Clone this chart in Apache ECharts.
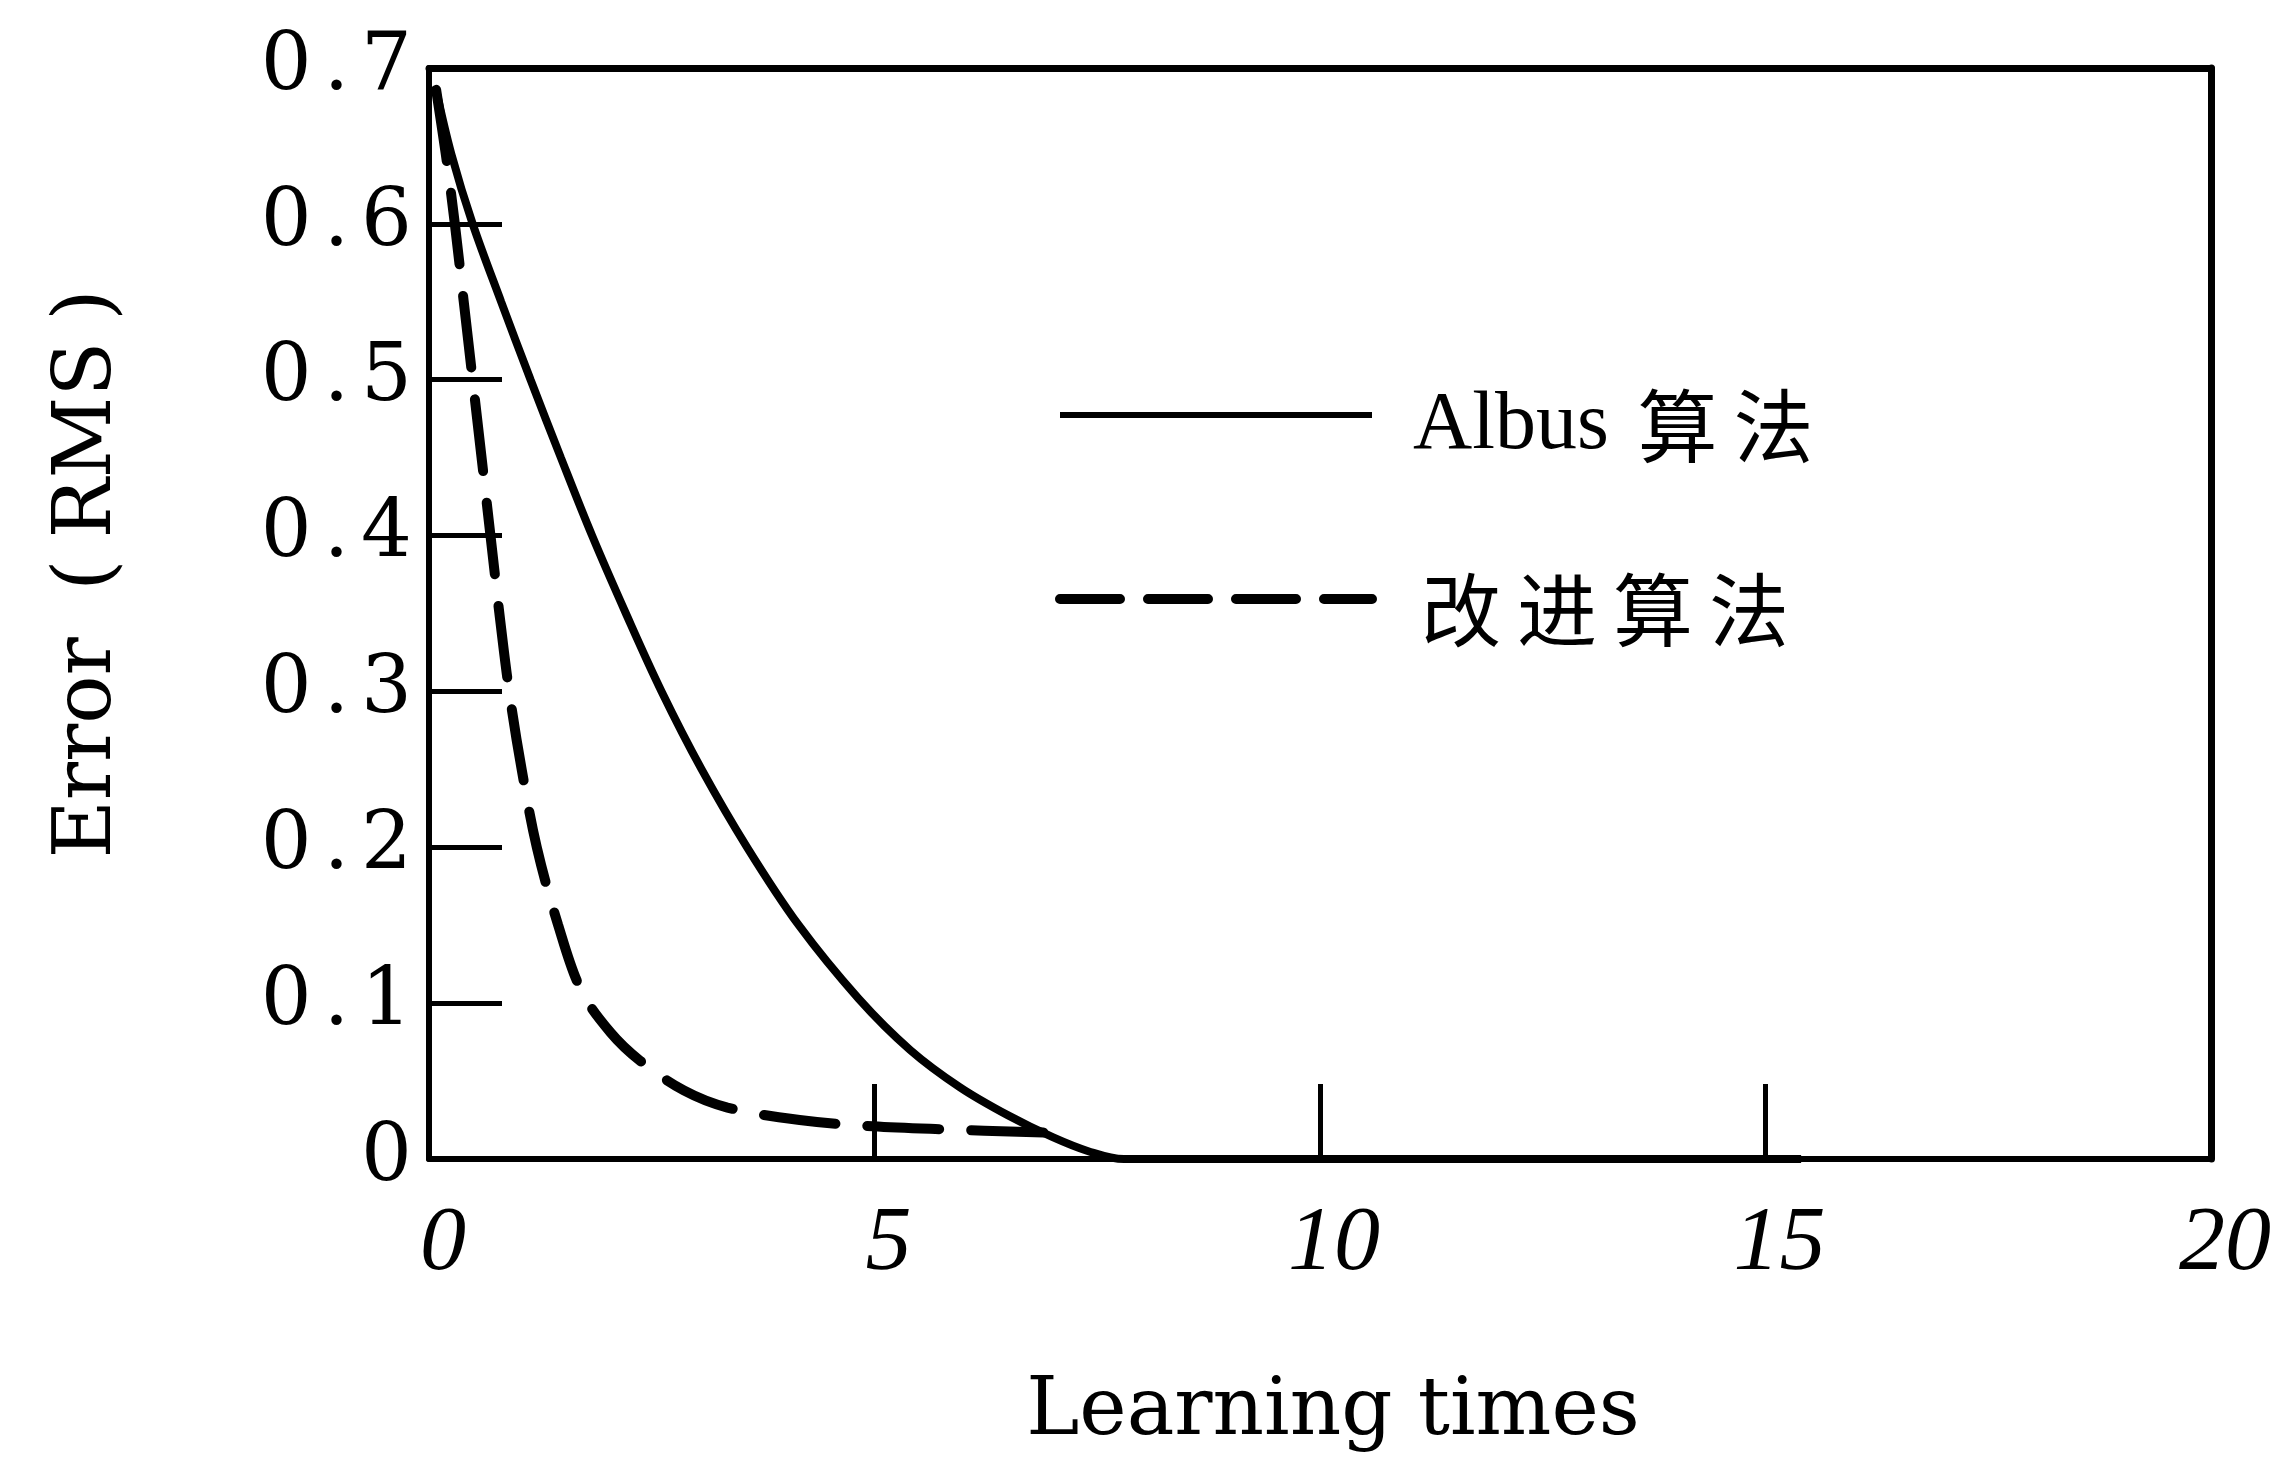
<!DOCTYPE html>
<html>
<head>
<meta charset="utf-8">
<script src="https://cdn.jsdelivr.net/npm/echarts@6/dist/echarts.min.js"></script>
<style>
html,body{margin:0;padding:0;background:#fff;}
#c{width:2281px;height:1463px;}
</style>
</head>
<body>
<div id="c"></div>
<script>
// ---- data ----
const seriesNames = ['Albus 算法', '改进算法'];
const xAlbus = [0.08, 0.25, 0.49, 0.81, 1.14, 1.48, 1.83, 2.21, 2.61, 3.06, 3.57, 4.15, 4.82, 5.4, 5.96, 6.5, 7.0, 7.4, 7.8, 9, 11, 13, 15.4];
const yAlbus = [0.686, 0.645, 0.6, 0.55, 0.5, 0.45, 0.4, 0.35, 0.3, 0.25, 0.2, 0.15, 0.103, 0.07, 0.046, 0.028, 0.014, 0.005, 0, 0, 0, 0, 0];
const xImproved = [0.08, 0.2, 0.29, 0.39, 0.49, 0.59, 0.69, 0.79, 0.9, 1.04, 1.21, 1.45, 1.71, 2.04, 2.37, 2.86, 3.35, 4.16, 4.98, 5.8, 6.9];
const yImproved = [0.686, 0.64, 0.6, 0.55, 0.5, 0.45, 0.4, 0.35, 0.3, 0.25, 0.2, 0.15, 0.108, 0.081, 0.063, 0.044, 0.033, 0.025, 0.021, 0.019, 0.017];
const xTickLabels = ['0', '5', '10', '15', '20'];
const yTickLabels = ['0', '0.1', '0.2', '0.3', '0.4', '0.5', '0.6', '0.7'];
const xTitle = 'Learning times';
const yTitle = 'Error (RMS)';

const pairs = (xs, ys) => xs.map((x, i) => [x, ys[i]]);

const chart = echarts.init(document.getElementById('c'), null, {renderer: 'canvas'});
const black = '#000';
const serif = "'DejaVu Serif', 'Liberation Serif', serif";
const noMarker = {color: 'rgba(0,0,0,0)', borderColor: 'rgba(0,0,0,0)', borderWidth: 0, opacity: 0};

const option = {
  backgroundColor: '#fff',
  animation: false,
  grid: {left: 429, right: 70, top: 68, bottom: 304, show: false},
  legend: {
    orient: 'vertical',
    left: 1050,
    top: 356,
    itemWidth: 312,
    itemHeight: 86,
    itemGap: 76,
    itemStyle: noMarker,
    data: [
      {name: seriesNames[0], itemStyle: noMarker, lineStyle: {color: black, width: 6, type: 'solid'}},
      {name: seriesNames[1], itemStyle: noMarker, lineStyle: {color: black, width: 10, type: [60, 28]}}
    ],
    formatter: (name) => name.replace(/[\u4e00-\u9fff]/g, (c) => '{c|' + c + '}'),
    textStyle: {
      fontFamily: "'Liberation Serif', 'Noto Sans CJK SC', serif",
      fontSize: 82,
      color: black,
      padding: [22, 0, 0, 36],
      lineHeight: 86,
      rich: {
        c: {fontFamily: "'Noto Sans CJK SC', sans-serif", fontSize: 80, color: black, lineHeight: 86, padding: [0, 8, 0, 8]}
      }
    }
  },
  xAxis: [{
    type: 'value', min: 0, max: 20, interval: 5,
    name: xTitle, nameLocation: 'middle', nameGap: 214,
    nameTextStyle: {fontFamily: serif, fontSize: 80, color: black, padding: [0, 0, 0, 26]},
    axisLine: {show: true, onZero: false, lineStyle: {color: black, width: 6}},
    axisTick: {show: true, inside: true, length: 75, lineStyle: {color: black, width: 5}},
    axisLabel: {
      margin: 40, color: black, fontFamily: "'Liberation Serif', serif", fontStyle: 'italic', fontSize: 92,
      padding: [0, 0, 0, 28],
      formatter: (v) => xTickLabels[Math.round(v / 5)]
    },
    splitLine: {show: false}
  }, {
    type: 'value', min: 0, max: 20, position: 'top',
    axisLine: {show: true, onZero: false, lineStyle: {color: black, width: 7}},
    axisTick: {show: false}, axisLabel: {show: false}, splitLine: {show: false}
  }],
  yAxis: [{
    type: 'value', min: 0, max: 0.7, interval: 0.1,
    name: yTitle.replace('(', '{p|(}').replace(')', '{p|)}'),
    nameLocation: 'middle', nameGap: 300, nameRotate: 90,
    nameTextStyle: {
      fontFamily: serif, fontSize: 80, color: black,
      padding: [0, 0, 0, 100],
      rich: {
        p: {fontFamily: serif, fontSize: 80, color: black, padding: [0, 21, 0, 21]}
      }
    },
    axisLine: {show: true, onZero: false, lineStyle: {color: black, width: 6}},
    axisTick: {show: true, inside: true, length: 73, lineStyle: {color: black, width: 5}},
    axisLabel: {
      margin: 17, color: black,
      formatter: (v) => {
        const s = yTickLabels[Math.round(v * 10)];
        return s.split('').map(c => c === '.' ? '{d|.}' : '{n|' + c + '}').join('');
      },
      rich: {
        n: {fontFamily: serif, fontSize: 80, color: black},
        d: {fontFamily: serif, fontSize: 80, color: black, padding: [0, 12, 0, 12]}
      }
    },
    splitLine: {show: false}
  }, {
    type: 'value', min: 0, max: 0.7, position: 'right',
    axisLine: {show: true, onZero: false, lineStyle: {color: black, width: 7}},
    axisTick: {show: false}, axisLabel: {show: false}, splitLine: {show: false}
  }],
  series: [{
    name: seriesNames[0],
    type: 'line',
    data: pairs(xAlbus, yAlbus),
    symbol: 'none',
    smooth: 0.35,
    lineStyle: {color: black, width: 8, type: 'solid'},
    itemStyle: {color: black}
  }, {
    name: seriesNames[1],
    type: 'line',
    data: pairs(xImproved, yImproved),
    symbol: 'none',
    smooth: 0.35,
    lineStyle: {color: black, width: 10, type: [72, 32], cap: 'round'},
    itemStyle: {color: black}
  }]
};
chart.setOption(option);
</script>
</body>
</html>
